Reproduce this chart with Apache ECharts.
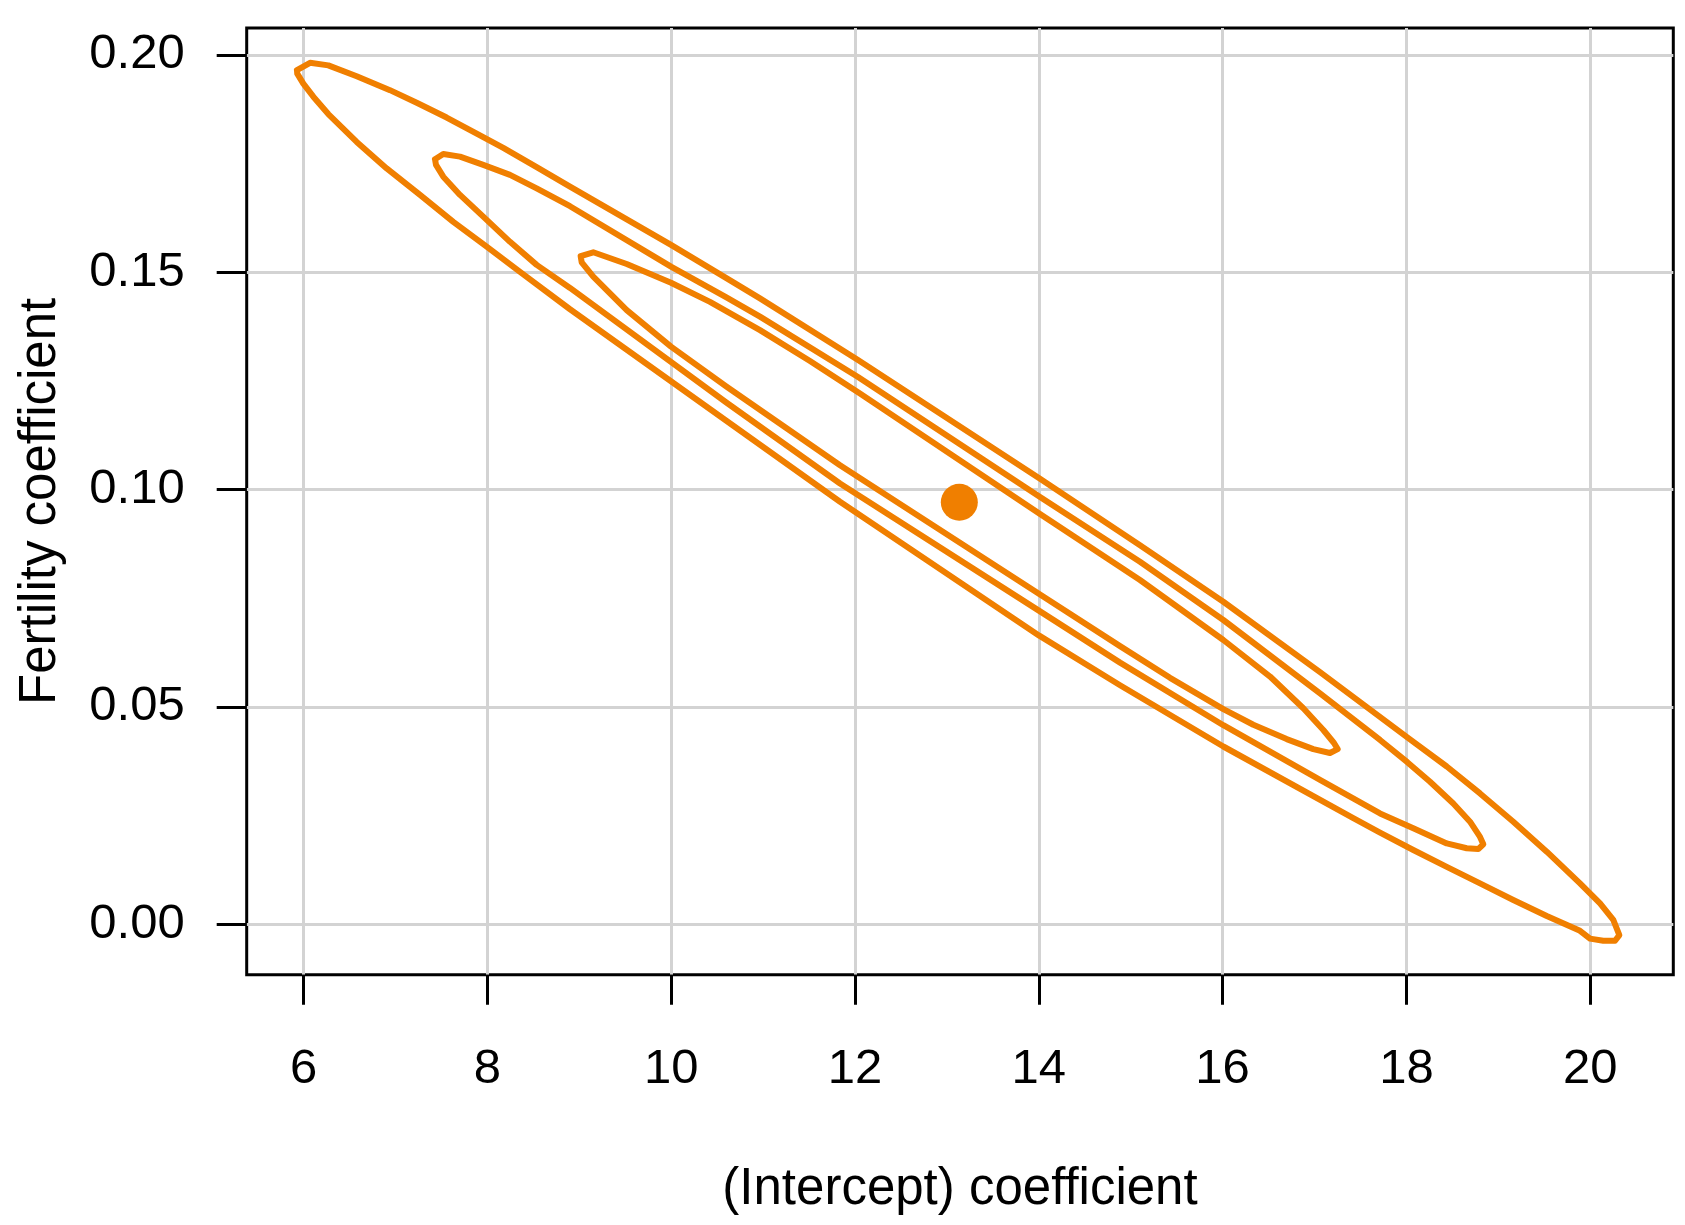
<!DOCTYPE html>
<html>
<head>
<meta charset="utf-8">
<script src="https://cdn.jsdelivr.net/npm/echarts@6/dist/echarts.min.js"></script>
<style>
html,body{margin:0;padding:0;background:#fff;}
#chart{width:1685px;height:1225px;}
</style>
</head>
<body>
<div id="chart"></div>
<script>
// Tick values
var xTicks = [6, 8, 10, 12, 14, 16, 18, 20];
var yTicks = [0, 0.05, 0.10, 0.15, 0.20];

// Point estimate
var estimate = [[13.135, 0.0971]];

// Outer contour (traced)
var outerContour = [
[5.928,0.1965],[6.070,0.1982],[6.269,0.1976],[6.578,0.1951],[6.940,0.1919],[7.231,0.1890],
[7.557,0.1856],[7.884,0.1819],[8.173,0.1786],[8.536,0.1742],[8.899,0.1697],[9.998,0.1563],
[10.596,0.1487],[10.966,0.1440],[12.033,0.1298],[14.005,0.1026],[15.101,0.0872],[16.008,0.0742],
[17.060,0.0580],[18.010,0.0430],[18.439,0.0363],[18.801,0.0301],[19.163,0.0236],[19.527,0.0167],
[19.889,0.0094],[20.107,0.0048],[20.251,0.0010],[20.317,-0.0025],[20.270,-0.0038],[20.142,-0.0038],
[19.998,-0.0033],[19.889,-0.0015],[19.527,0.0019],[19.163,0.0056],[18.801,0.0094],[18.439,0.0132],
[18.075,0.0171],[17.713,0.0211],[17.422,0.0244],[16.008,0.0409],[14.884,0.0550],[14.005,0.0664],
[11.837,0.0972],[10.596,0.1159],[8.899,0.1415],[8.355,0.1501],[7.992,0.1559],[7.629,0.1616],
[7.267,0.1678],[6.904,0.1739],[6.578,0.1800],[6.269,0.1864],[6.106,0.1904],[5.997,0.1934],
[5.931,0.1957],[5.928,0.1965]
];

// Middle contour (traced)
var middleContour = [
[7.430,0.1760],[7.520,0.1772],[7.702,0.1766],[7.955,0.1747],[8.246,0.1724],[8.536,0.1693],
[8.899,0.1652],[9.998,0.1513],[10.596,0.1443],[10.966,0.1398],[12.033,0.1259],[14.005,0.0984],
[15.101,0.0834],[16.008,0.0700],[17.060,0.0531],[17.713,0.0424],[18.010,0.0373],[18.257,0.0328],
[18.510,0.0278],[18.692,0.0236],[18.801,0.0201],[18.837,0.0184],[18.782,0.0173],[18.656,0.0175],
[18.439,0.0186],[18.075,0.0221],[17.713,0.0255],[17.060,0.0332],[16.008,0.0458],[14.884,0.0602],
[14.005,0.0721],[11.837,0.1014],[10.596,0.1201],[8.899,0.1464],[8.536,0.1517],[8.246,0.1570],
[7.955,0.1628],[7.702,0.1678],[7.520,0.1720],[7.441,0.1747],[7.430,0.1760]
];

// Inner contour (traced)
var innerContour = [
[9.015,0.1537],[9.152,0.1546],[9.516,0.1519],[9.998,0.1476],[10.422,0.1432],[10.966,0.1367],
[11.510,0.1296],[12.054,0.1221],[14.005,0.0945],[15.101,0.0792],[16.008,0.0654],[16.516,0.0570],
[16.878,0.0497],[17.096,0.0447],[17.212,0.0417],[17.252,0.0403],[17.168,0.0394],[16.987,0.0403],
[16.697,0.0426],[16.334,0.0459],[16.008,0.0495],[15.428,0.0567],[14.884,0.0640],[14.005,0.0760],
[11.837,0.1056],[10.596,0.1238],[9.998,0.1329],[9.516,0.1413],[9.152,0.1490],[9.026,0.1523],
[9.015,0.1537]
];

var ORANGE = '#f07f00';
var FONT = 'Liberation Sans, Arial, Helvetica, sans-serif';

function contourSeries(data) {
  return {
    type: 'line',
    data: data,
    showSymbol: false,
    symbol: 'none',
    smooth: false,
    silent: true,
    lineStyle: { color: ORANGE, width: 6, cap: 'round', join: 'round', opacity: 1 },
    z: 3
  };
}

var chart = echarts.init(document.getElementById('chart'), null, { renderer: 'canvas' });
chart.setOption({
  animation: false,
  backgroundColor: '#fff',
  grid: {
    left: 246.7, right: 11.7, top: 28, bottom: 250.3,
    show: true, borderColor: '#000', borderWidth: 3, backgroundColor: 'transparent'
  },
  xAxis: {
    type: 'value',
    min: 5.381, max: 20.904,
    name: '(Intercept) coefficient',
    nameLocation: 'middle',
    nameGap: 190,
    nameTextStyle: { fontSize: 51, color: '#000', fontFamily: FONT },
    axisLine: { show: false, onZero: false },
    axisTick: { show: true, inside: false, length: 30, customValues: xTicks,
      lineStyle: { color: '#000', width: 3 } },
    axisLabel: { show: true, customValues: xTicks, margin: 70, fontSize: 49,
      color: '#000', fontFamily: FONT },
    splitLine: { show: true, lineStyle: { color: '#d3d3d3', width: 3 } }
  },
  yAxis: {
    type: 'value',
    min: -0.0116, max: 0.2062,
    name: 'Fertility coefficient',
    nameLocation: 'middle',
    nameRotate: 90,
    nameGap: 180,
    nameTextStyle: { fontSize: 51, color: '#000', fontFamily: FONT },
    axisLine: { show: false, onZero: false },
    axisTick: { show: true, inside: false, length: 30, customValues: yTicks,
      lineStyle: { color: '#000', width: 3 } },
    axisLabel: { show: true, customValues: yTicks, margin: 62, fontSize: 49,
      color: '#000', fontFamily: FONT,
      formatter: function (v) { return v.toFixed(2); } },
    splitLine: { show: true, lineStyle: { color: '#d3d3d3', width: 3 } }
  },
  series: [
    contourSeries(outerContour),
    contourSeries(middleContour),
    contourSeries(innerContour),
    {
      type: 'scatter',
      data: estimate,
      symbol: 'circle',
      symbolSize: 37,
      silent: true,
      itemStyle: { color: ORANGE, opacity: 1 },
      z: 4
    }
  ]
});
</script>
</body>
</html>
